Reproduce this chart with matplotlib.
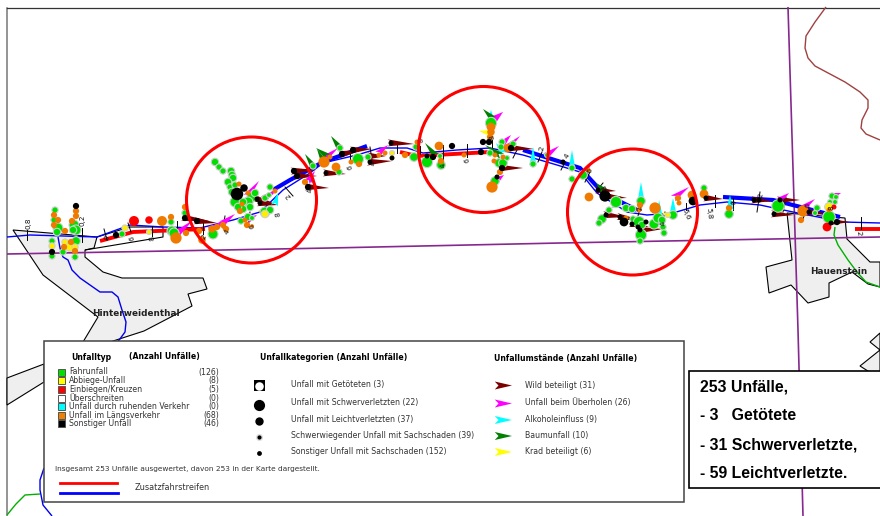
import matplotlib
matplotlib.use("Agg")
import matplotlib.pyplot as plt
from matplotlib.patches import Ellipse, Polygon, Rectangle

plt.rcParams['font.family'] = ['DejaVu Sans']

# map lines in pixels
road = [(7, 237), (30, 235), (97, 237), (130, 225), (163, 227), (200, 228), (233, 220), (260, 212), (283, 190),
        (310, 173), (323, 163), (357, 155), (380, 148), (407, 148), (423, 153), (457, 150), (490, 148), (523, 155),
        (557, 165), (580, 172), (597, 193), (627, 212), (647, 215), (673, 213), (700, 205), (727, 202), (760, 205),
        (793, 212), (843, 222), (880, 223)]
blue_thick_1 = [(273, 190), (290, 180), (323, 162), (367, 146)]
blue_thick_2 = [(523, 150), (580, 168), (603, 193), (637, 210)]
blue_thick_3 = [(723, 197), (773, 200), (840, 217)]
red_thick_1 = [(100, 241), (133, 232), (180, 230), (205, 229)]
red_thick_2 = [(400, 152), (417, 156), (490, 152)]
red_thick_3 = [(855, 229), (880, 229)]
purple_h = [(7, 254), (330, 248), (560, 243), (880, 237)]
purple_v = [(788, 7), (798, 330), (803, 516)]
brown = [(826, 7), (815, 22), (806, 36), (805, 48), (808, 58), (815, 66), (830, 74), (845, 82), (860, 92), (868, 100),
         (868, 108), (862, 120), (861, 128), (866, 134), (880, 140)]
river_blue = [(58, 237), (60, 248), (63, 257), (68, 260), (72, 270), (80, 278), (90, 285), (100, 292), (112, 292),
              (118, 297), (122, 310), (126, 322), (125, 332), (117, 343)]
river_blue_low = [(44, 468), (40, 480), (40, 490), (43, 505), (52, 516)]
river_green = [(835, 227), (834, 235), (838, 245), (848, 260), (857, 272), (866, 282), (880, 287)]
river_green_low = [(7, 515), (16, 504), (25, 495), (40, 494)]

# built up areas
town_1 = [(13, 230), (97, 237), (94, 248), (85, 250), (85, 257), (103, 272), (122, 278), (203, 278), (207, 289),
          (188, 294), (192, 306), (144, 331), (110, 342), (83, 342), (98, 317), (43, 275)]
town_1_annex = [(85, 250), (163, 237), (163, 227), (130, 227), (97, 237)]
town_2 = [(787, 213), (792, 260), (766, 267), (769, 293), (791, 285), (808, 303), (829, 297), (829, 283), (852, 272),
          (868, 284), (880, 287), (880, 262), (870, 262), (847, 239), (845, 218)]
town_3 = [(7, 378), (44, 364), (44, 382), (7, 405)]
town_4 = [(880, 333), (870, 342), (880, 350), (860, 366), (871, 373), (880, 373)]

# km ticks (x1, y1, x2, y2)
km_ticks = [(27, 230, 27, 240), (82, 228, 82, 242), (104, 229, 107, 240), (128, 223, 131, 232), (152, 226, 152, 236),
            (177, 221, 177, 235), (203, 223, 203, 234), (225, 216, 223, 228), (250, 212, 248, 224), (285, 187, 293, 196),
            (310, 168, 312, 182), (350, 150, 350, 163), (370, 147, 372, 160), (397, 143, 397, 153), (420, 146, 420, 154),
            (443, 145, 443, 160), (467, 144, 467, 157), (492, 140, 492, 150), (517, 150, 513, 158), (542, 152, 538, 162),
            (565, 162, 561, 170), (590, 172, 585, 182), (603, 183, 597, 190), (620, 197, 613, 207), (640, 208, 638, 216),
            (665, 212, 663, 220), (686, 203, 686, 210), (715, 195, 715, 207), (733, 198, 733, 210), (760, 192, 757, 212),
            (786, 197, 783, 212), (806, 207, 803, 220), (830, 205, 828, 215), (861, 217, 861, 229)]
km_labels = ["0,8", "0,2", "0", "6", "8", "2", "4", "6", "8", "2", "4", "6", "4", "8", "4", "6", "8", "2", "4",
             "6", "8", "2", "4", "5,6", "5,8", "6", "2", "4", "6", "8", "2"]
km_label_x = [28, 82, 107, 132, 152, 204, 227, 252, 278, 288, 310, 350, 373, 421, 443, 467, 492, 542, 567,
              590, 605, 640, 663, 686, 709, 734, 761, 784, 808, 831, 859]
km_label_y = [223, 220, 238, 238, 238, 237, 232, 226, 214, 196, 190, 167, 163, 140, 165, 160, 137, 148, 156,
              170, 187, 208, 223, 214, 213, 202, 195, 199, 205, 208, 233]
km_label_rot = [90, 90, 60, 100, 100, 60, 60, 100, 100, 130, 100, 100, 100, 100, 100, 100, 100, 80, 60,
                80, 120, 100, 100, -70, -85, 80, 80, 80, 80, 90, -85]

# accidents (x, y, radius in px)
green_dots = [(55, 210, 2.5), (54, 220, 2.5), (58, 228, 4), (57, 232, 3), (52, 241, 2.5), (52, 256, 2.5), (63, 252, 2.5),
              (75, 257, 2.5), (74, 225, 4), (76, 230, 4), (76, 241, 3.5), (73, 230, 3), (122, 234, 2.5), (171, 222, 2.5),
              (172, 231, 4), (174, 233, 4), (185, 213, 2.5), (213, 234, 4), (215, 162, 3), (219, 167, 2.5), (223, 171, 2.5),
              (231, 171, 3), (232, 175, 3), (233, 178, 3), (228, 182, 3), (230, 187, 2.5), (235, 185, 2.5), (232, 192, 3),
              (235, 202, 4), (252, 197, 4), (248, 202, 4), (243, 202, 3), (250, 207, 3), (243, 209, 3), (238, 207, 3),
              (255, 193, 3), (265, 198, 2.5), (270, 187, 2.5), (269, 195, 2), (265, 212, 4), (270, 210, 3), (241, 221, 2.5),
              (248, 217, 3), (252, 218, 2), (313, 166, 2.5), (340, 148, 2.5), (339, 172, 2.5), (358, 159, 4.5),
              (368, 157, 2.5), (414, 157, 3.5), (416, 147, 2.5), (427, 162, 4.5), (441, 165, 3.5), (440, 156, 2),
              (491, 123, 4.5), (502, 142, 2.5), (501, 147, 2.5), (513, 144, 2.5), (490, 153, 2.5), (499, 163, 3.5),
              (503, 163, 3.5), (507, 158, 2), (495, 181, 3.5), (533, 164, 2.5), (572, 179, 2.5), (547, 155, 2),
              (572, 168, 2.5), (583, 175, 3.5), (616, 202, 4.5), (609, 210, 2.5), (602, 219, 3.5), (599, 223, 2.5),
              (626, 208, 3), (632, 209, 3), (641, 201, 3.5), (633, 219, 2.5), (639, 222, 4.5), (642, 225, 3),
              (641, 235, 4.5), (640, 241, 2.5), (654, 224, 4), (658, 218, 4), (662, 220, 3), (663, 227, 2.5),
              (664, 233, 2.5), (673, 215, 3.5), (704, 188, 2.5), (729, 214, 3.5), (778, 206, 5), (817, 208, 2.5),
              (815, 213, 2), (832, 196, 2.5), (836, 197, 2), (830, 202, 2), (835, 202, 2), (829, 217, 5)]
orange_dots = [(54, 215, 2.5), (58, 220, 2.5), (54, 225, 2.5), (76, 211, 2.5), (76, 216, 2.5), (72, 221, 2.5), (65, 231, 2.5),
               (71, 242, 2.5), (64, 247, 2.5), (75, 251, 2.5), (162, 221, 4), (171, 217, 2.5), (176, 238, 4.5), (186, 233, 2.5),
               (185, 207, 2.5), (199, 231, 2.5), (202, 240, 3), (212, 229, 3), (217, 227, 2.5), (223, 225, 2.5), (226, 229, 2.5),
               (239, 184, 2), (248, 193, 2), (240, 211, 2.5), (242, 204, 2), (275, 191, 2), (245, 220, 2), (247, 225, 2.5),
               (252, 226, 1.5), (324, 162, 4.5), (330, 157, 2), (336, 167, 3.5), (305, 182, 2.5), (359, 164, 2.5), (351, 162, 2),
               (379, 155, 2), (385, 153, 2), (405, 155, 2.5), (417, 142, 2), (439, 146, 3.5), (441, 161, 2.5), (464, 155, 2),
               (491, 127, 3.5), (491, 132, 3), (490, 137, 2.5), (508, 148, 3.5), (495, 155, 2), (503, 157, 2), (494, 161, 2),
               (500, 172, 2.5), (492, 187, 4.5), (588, 170, 2), (589, 197, 3.5), (640, 205, 2.5), (639, 210, 2), (626, 218, 2),
               (655, 208, 4.5), (678, 198, 2.5), (679, 203, 2), (692, 195, 3.5), (704, 194, 3.5), (729, 208, 2.5), (803, 211, 4.5),
               (801, 220, 2.5), (829, 210, 2)]
black_dots = [(76, 206, 2.5), (52, 252, 2.5), (116, 235, 2.5), (185, 218, 2.5), (197, 221, 2.5), (237, 194, 5), (244, 188, 3),
              (257, 199, 2), (260, 203, 2), (294, 171, 2.5), (297, 176, 2.5), (326, 173, 2), (308, 187, 2.5), (342, 154, 2.5),
              (353, 150, 2.5), (370, 162, 2), (392, 158, 2), (391, 143, 2), (452, 146, 2.5), (427, 156, 2), (433, 157, 2.5),
              (481, 152, 2.5), (483, 142, 2.5), (489, 142, 2.5), (511, 148, 2.5), (502, 168, 2.5), (497, 177, 2), (563, 162, 2),
              (598, 190, 2), (605, 196, 4.5), (606, 215, 2), (620, 217, 2), (624, 222, 3.5), (632, 224, 2), (646, 222, 2),
              (638, 227, 2), (640, 230, 2), (693, 201, 3.5), (706, 198, 2), (754, 200, 2), (759, 200, 2), (774, 214, 2),
              (780, 200, 2), (809, 212, 2), (831, 223, 2), (837, 222, 2.5)]
yellow_dots = [(65, 242, 2.5), (52, 246, 2.5), (70, 247, 3.5), (75, 247, 2.5), (125, 228, 2.5), (149, 232, 2), (265, 214, 3),
               (392, 153, 2), (668, 215, 2), (829, 207, 3.5)]
red_dots = [(134, 221, 4), (149, 220, 3), (834, 207, 2), (827, 227, 3.5)]

# circumstance arrows (x, y, dx, dy)
wild_arrows = [(185, 218, 24, 3), (197, 221, 20, 2), (257, 199, 16, 4), (260, 203, 18, 2), (294, 171, 22, -1), (297, 176, 20, 0),
               (326, 173, 20, 1), (308, 187, 21, 1), (342, 154, 20, -4), (353, 150, 19, -1), (370, 162, 22, -1), (370, 156, 16, 0),
               (391, 143, 23, 1), (511, 148, 23, 1), (502, 168, 21, 0), (598, 190, 18, 1), (605, 196, 22, 2), (606, 215, 21, 2),
               (620, 217, 20, 3), (632, 224, 17, 3), (640, 230, 23, -1), (706, 198, 17, 1), (754, 200, 18, 1), (780, 200, 20, 0),
               (774, 214, 20, 1), (809, 212, 17, 2), (830, 222, 20, 0)]
overtake_arrows = [(178, 233, 15, -13), (212, 229, 20, -12), (248, 195, 11, -14), (265, 198, 14, -10), (248, 220, 9, -5),
                   (223, 223, 12, -9), (308, 181, 7, -10), (325, 158, 13, -10), (379, 153, 9, -8), (491, 125, 12, -13),
                   (491, 120, 12, -8), (503, 143, 8, -8), (508, 147, 12, -11), (497, 180, 7, -5), (675, 197, 14, -10),
                   (547, 155, 12, -9), (583, 173, 8, -8), (780, 200, 9, -7), (803, 208, 12, -9), (832, 196, 9, -3)]
alcohol_arrows = [(572, 167, 0, -17), (641, 199, 0, -17), (660, 218, -1, -18), (673, 212, 0, -14), (730, 208, 0, -13),
                  (533, 163, 0, -16), (275, 204, 3, -11), (503, 153, -7, -10), (491, 120, 0, -10)]
tree_arrows = [(339, 147, -8, -11), (327, 156, -11, -8), (313, 166, -8, -12), (435, 155, -10, -12), (492, 118, -9, -9),
               (500, 155, -15, -10), (603, 190, -7, -7), (324, 162, -7, -13)]
krad_arrows = [(490, 133, -11, -2), (668, 215, -6, -2), (265, 212, -7, -2)]

# red marked stretches (centre x, centre y)
circle_x = [251.5, 483.5, 632.5]
circle_y = [200, 149.5, 212]

# legend content
type_names = ["Fahrunfall", "Abbiege-Unfall", "Einbiegen/Kreuzen", "Überschreiten", "Unfall durch ruhenden Verkehr",
              "Unfall im Längsverkehr", "Sonstiger Unfall"]
type_counts = ["(126)", "(8)", "(5)", "(0)", "(0)", "(68)", "(46)"]
type_colors = ["#00e000", "#ffff00", "#ff0000", "#ffffff", "#00ffff", "#f08000", "#000000"]
type_rows = [372, 380.5, 389.5, 398.5, 406.5, 415.5, 423.5]
category_names = ["Unfall mit Getöteten (3)", "Unfall mit Schwerverletzten (22)", "Unfall mit Leichtverletzten (37)",
                  "Schwerwiegender Unfall mit Sachschaden (39)", "Sonstiger Unfall mit Sachschaden (152)"]
circumstance_names = ["Wild beteiligt (31)", "Unfall beim Überholen (26)", "Alkoholeinfluss (9)", "Baumunfall (10)",
                      "Krad beteiligt (6)"]
circumstance_colors = ["#7a0000", "#ff00ff", "#00ffff", "#008000", "#ffff00"]
legend_rows = [385, 403, 419.5, 435.5, 451.5]
summary_lines = ["253 Unfälle,", "- 3   Getötete", "- 31 Schwerverletzte,", "- 59 Leichtverletzte."]
summary_rows = [387, 416, 445, 474]


def draw_line(ax, pts, color, lw, z=2):
    ax.plot([p[0] for p in pts], [p[1] for p in pts], color=color, lw=lw, zorder=z, solid_capstyle='butt',
            solid_joinstyle='round')


def draw_town(ax, pts):
    ax.add_patch(Polygon(pts, closed=True, facecolor='#efefef', edgecolor='black', lw=0.8, zorder=1))


def draw_arrow(ax, x, y, dx, dy, color, z=4, width=7.0):
    # narrow dart with notched tail, tail at x,y
    length = (dx ** 2 + dy ** 2) ** 0.5
    nx, ny = -dy / length, dx / length
    w = width / 2
    pts = [(x + dx, y + dy), (x - 0.15 * dx + nx * w, y - 0.15 * dy + ny * w), (x + 0.1 * dx, y + 0.1 * dy),
           (x - 0.15 * dx - nx * w, y - 0.15 * dy - ny * w)]
    ax.add_patch(Polygon(pts, closed=True, facecolor=color, edgecolor='none', zorder=z))


def draw_dots(ax, dots, color, z=5, halo=True):
    # dots in the scan look a bit fatter than their core
    s = [(2 * d[2] * 1.25 * 0.72) ** 2 for d in dots]
    ax.scatter([d[0] for d in dots], [d[1] for d in dots], s=s, color=color, linewidths=0.8 if halo else 0,
               edgecolors='#cfcfcf' if halo else 'none', zorder=z)


fig = plt.figure(figsize=(8.8, 5.16), dpi=100)
ax = fig.add_axes([0, 0, 1, 1])
ax.set_xlim(0, 880)
ax.set_ylim(516, 0)
ax.axis('off')

# frame
ax.plot([7, 7], [8, 516], color='#777777', lw=1.1, zorder=1)
ax.plot([7, 880], [8, 8], color='#333333', lw=0.9, zorder=1)

for town in [town_1, town_2, town_3, town_4]:
    draw_town(ax, town)
draw_line(ax, town_1_annex, 'black', 0.8, z=1)

draw_line(ax, purple_h, '#86288f', 1.2)
draw_line(ax, purple_v, '#86288f', 1.2)
draw_line(ax, brown, '#a04040', 1.0)
draw_line(ax, river_blue, '#0000ee', 1.0)
draw_line(ax, river_blue_low, '#0000ee', 1.0)
draw_line(ax, river_green, '#00b000', 1.0)
draw_line(ax, river_green_low, '#00b000', 1.0)

draw_line(ax, road, '#0000ff', 1.0, z=2.5)
for seg in [blue_thick_1, blue_thick_2, blue_thick_3]:
    draw_line(ax, seg, '#0000ff', 3.0, z=2.6)
for seg in [red_thick_1, red_thick_2, red_thick_3]:
    draw_line(ax, seg, '#ff0000', 2.8, z=2.6)

for t in km_ticks:
    ax.plot([t[0], t[2]], [t[1], t[3]], color='black', lw=0.7, zorder=3)

for a in wild_arrows:
    draw_arrow(ax, *a, circumstance_colors[0])
for a in overtake_arrows:
    draw_arrow(ax, *a, circumstance_colors[1])
for a in alcohol_arrows:
    draw_arrow(ax, *a, circumstance_colors[2])
for a in tree_arrows:
    draw_arrow(ax, *a, circumstance_colors[3])
for a in krad_arrows:
    draw_arrow(ax, *a, circumstance_colors[4])

draw_dots(ax, green_dots, '#00e000')
draw_dots(ax, yellow_dots, '#ffee00')
draw_dots(ax, orange_dots, '#f07a00', z=5.2, halo=False)
draw_dots(ax, red_dots, '#ff0000', z=5.2, halo=False)
draw_dots(ax, black_dots, '#000000', z=5.4, halo=False)

for lab, x, y, rot in zip(km_labels, km_label_x, km_label_y, km_label_rot):
    ax.text(x, y, lab, fontsize=5.2, rotation=rot, ha='center', va='center', color='#111111', zorder=6)

for cx, cy in zip(circle_x, circle_y):
    ax.add_patch(Ellipse((cx, cy), 130, 126, fill=False, edgecolor='#ff0000', lw=2.2, zorder=7))

ax.text(135.5, 314, "Hinterweidenthal", fontsize=6.4, fontweight='bold', ha='center', va='center', color='#222222', zorder=6)
ax.text(838.5, 271, "Hauenstein", fontsize=6.4, fontweight='bold', ha='center', va='center', color='#222222', zorder=6)

# legend box
ax.add_patch(Rectangle((44, 341), 640, 161, facecolor='white', edgecolor='#444444', lw=1.1, zorder=8))
ax.text(71, 357, "Unfalltyp", fontsize=5.6, fontweight='bold', va='center', zorder=9)
ax.text(129, 357, "(Anzahl Unfälle)", fontsize=5.6, fontweight='bold', va='center', zorder=9)
ax.text(260, 358, "Unfallkategorien (Anzahl Unfälle)", fontsize=5.6, fontweight='bold', va='center', zorder=9)
ax.text(494, 358, "Unfallumstände (Anzahl Unfälle)", fontsize=5.6, fontweight='bold', va='center', zorder=9)

for name, count, col, y in zip(type_names, type_counts, type_colors, type_rows):
    ax.add_patch(Rectangle((57.5, y - 3.5), 7.5, 7, facecolor=col, edgecolor='#555555', lw=0.7, zorder=9))
    ax.text(69, y, name, fontsize=5.6, va='center', color='#333333', zorder=9)
    ax.text(219, y, count, fontsize=5.6, va='center', ha='right', color='#333333', zorder=9)

ax.add_patch(Rectangle((253.5, 380), 11, 11, facecolor='black', edgecolor='none', zorder=9))
ax.scatter([259], [385.5], s=38, color='white', linewidths=0, zorder=10)
ax.scatter([259], [404.5], s=65, color='black', linewidths=0, zorder=9)
ax.scatter([259], [420.5], s=36, color='black', linewidths=0, zorder=9)
ax.scatter([259], [436.5], s=26, color='#dddddd', linewidths=0, zorder=9)
ax.scatter([259], [436.5], s=9, color='black', linewidths=0, zorder=10)
ax.scatter([259], [452.5], s=12, color='black', linewidths=0, zorder=9)

for name, col, y in zip(circumstance_names, circumstance_colors, legend_rows):
    draw_arrow(ax, 497, y + 0.5, 15, 0, col, z=9, width=8)
    ax.text(525, y, name, fontsize=5.6, va='center', color='#333333', zorder=9)
for name, y in zip(category_names, legend_rows):
    ax.text(291, y, name, fontsize=5.6, va='center', color='#333333', zorder=9)

ax.text(55, 469, "Insgesamt 253 Unfälle ausgewertet, davon 253 in der Karte dargestellt.", fontsize=5.3,
        va='center', color='#333333', zorder=9)
ax.plot([60, 117], [483, 483], color='#ff0000', lw=2.0, zorder=9)
ax.plot([60, 118], [493, 493], color='#0000ff', lw=2.0, zorder=9)
ax.text(135, 487, "Zusatzfahrstreifen", fontsize=5.9, va='center', color='#333333', zorder=9)

# summary box
ax.add_patch(Rectangle((689, 371), 195, 117, facecolor='white', edgecolor='black', lw=1.2, zorder=8))
for line, y in zip(summary_lines, summary_rows):
    ax.text(700, y, line, fontsize=11.4, fontweight='bold', family='Liberation Sans', va='center', color='black', zorder=9)

fig.savefig("out.png", dpi=100)
